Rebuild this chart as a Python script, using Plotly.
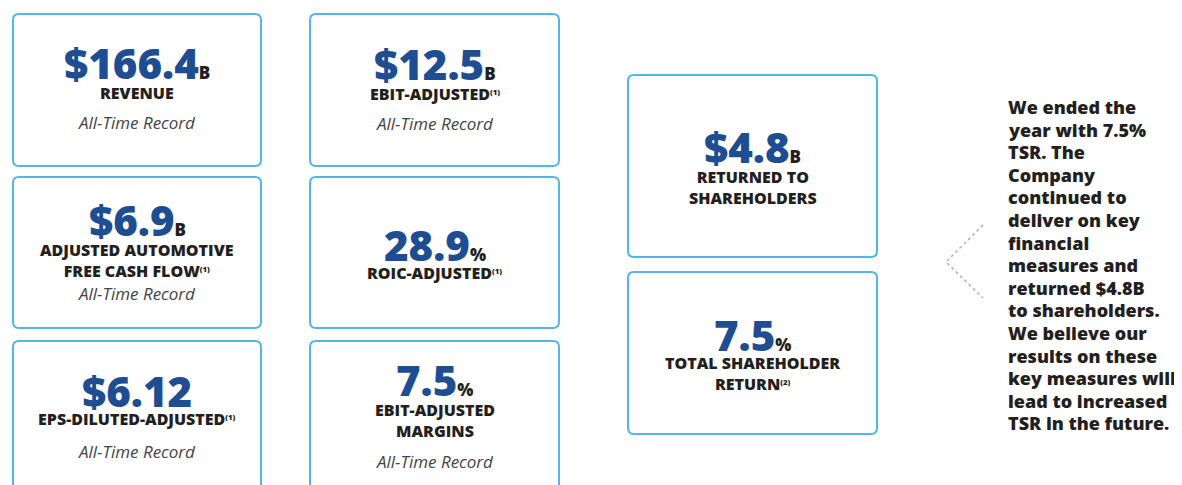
import plotly.graph_objects as go

# ---- data ----
values = ["$166.4", "$12.5", "$6.9", "28.9", "$6.12", "7.5", "$4.8", "7.5"]
units = ["B", "B", "B", "%", "", "%", "B", "%"]
labels = ["REVENUE", "EBIT-ADJUSTED", "ADJUSTED AUTOMOTIVE<br>FREE CASH FLOW",
          "ROIC-ADJUSTED", "EPS-DILUTED-ADJUSTED", "EBIT-ADJUSTED<br>MARGINS",
          "RETURNED TO<br>SHAREHOLDERS", "TOTAL SHAREHOLDER<br>RETURN"]
footnotes = ["", "(1)", "(1)", "(1)", "(1)", "", "", "(2)"]
notes = ["All-Time Record", "All-Time Record", "All-Time Record", "",
         "All-Time Record", "All-Time Record", "", ""]
side_text = ["We ended the", "year with 7.5%", "TSR. The", "Company", "continued to",
             "deliver on key", "financial", "measures and", "returned $4.8B",
             "to shareholders.", "We believe our", "results on these",
             "key measures will", "lead to increased", "TSR in the future."]

# ---- layout geometry (pixels) ----
boxes = [(13, 14, 261, 166), (310, 14, 559, 166),
         (13, 177, 261, 328), (310, 177, 559, 328),
         (13, 341, 261, 500), (310, 341, 559, 500),
         (628, 75, 877, 257), (628, 272, 877, 434)]
num_y = [62, 63, 219, 244, 390, 379, 146, 334]
lab_y = [93, 94, 260, 272.5, 419, 420, 187.5, 373]
note_y = [122, 123, 293.5, None, 451.5, 461, None, None]

BLUE = "#1e4d92"
BORDER = "#52b7e6"
DARK = "#231f20"
FONT = "Open Sans"
OFF = 8  # page body margin


def rrect(x0, y0, x1, y1, r=6):
    return (f"M{x0+r},{y0} L{x1-r},{y0} Q{x1},{y0} {x1},{y0+r} "
            f"L{x1},{y1-r} Q{x1},{y1} {x1-r},{y1} L{x0+r},{y1} "
            f"Q{x0},{y1} {x0},{y1-r} L{x0},{y0+r} Q{x0},{y0} {x0+r},{y0} Z")


fig = go.Figure()
shapes = []
annotations = []
for i, (x0, y0, x1, y1) in enumerate(boxes):
    shapes.append(dict(type="path", path=rrect(x0, y0, x1, y1), xref="x", yref="y",
                       line=dict(color=BORDER, width=2), fillcolor="white", layer="below"))
    cx = (x0 + x1) / 2
    unit = (f"<span style='font-size:17px;color:{DARK}'>{units[i]}</span>"
            if units[i] else "")
    annotations.append(dict(x=cx, y=num_y[i], xref="x", yref="y", showarrow=False,
                            xanchor="center", yanchor="middle",
                            text=values[i] + unit,
                            font=dict(family=FONT, size=42, color=BLUE, weight=800)))
    fn = (f"<span style='font-size:11px'><sup>{footnotes[i]}</sup></span>"
          if footnotes[i] else "")
    annotations.append(dict(x=cx, y=lab_y[i], xref="x", yref="y", showarrow=False,
                            xanchor="center", yanchor="middle", align="center",
                            text=labels[i] + fn,
                            font=dict(family=FONT, size=16, color=DARK, weight=800)))
    if notes[i]:
        annotations.append(dict(x=cx, y=note_y[i], xref="x", yref="y", showarrow=False,
                                xanchor="center", yanchor="middle",
                                text=f"<i>{notes[i]}</i>",
                                font=dict(family=FONT, size=17, color="#444444")))

# chevron
shapes.append(dict(type="path", path="M983,225 L946,262 L983,298", xref="x", yref="y",
                   line=dict(color="#b0b0b0", width=1.5, dash="dot")))

line_gap = 22.6
for k, t in enumerate(side_text):
    annotations.append(dict(x=1006, y=107 + k * line_gap, xref="x", yref="y",
                            showarrow=False, xanchor="left", yanchor="middle",
                            text=t, font=dict(family=FONT, size=18, color=DARK, weight=800)))

fig.update_layout(width=1182 - OFF, height=485 - OFF, margin=dict(l=0, r=0, t=0, b=0),
                  paper_bgcolor="white", plot_bgcolor="white",
                  xaxis=dict(range=[OFF, 1182], visible=False, fixedrange=True),
                  yaxis=dict(range=[485, OFF], visible=False, fixedrange=True),
                  shapes=shapes, annotations=annotations, showlegend=False)
fig.write_html("out.html")
